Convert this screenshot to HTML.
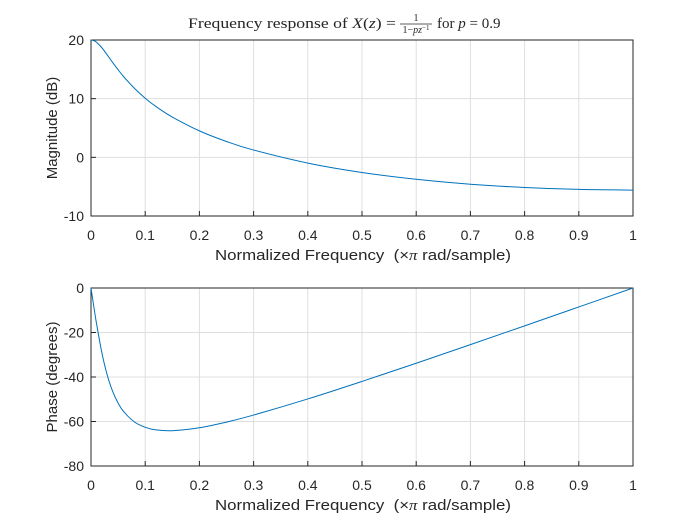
<!DOCTYPE html>
<html><head><meta charset="utf-8"><style>
body{margin:0;background:#fff}
svg text{font-family:"Liberation Sans",sans-serif;font-size:13px;fill:#262626}
.ser{font-family:"Liberation Serif",serif !important;font-size:15px}
</style></head><body>
<svg id="fig" width="700" height="525" xmlns="http://www.w3.org/2000/svg">
<rect width="700" height="525" fill="#fff"/>
<g>
<text class="ser" x="188" y="28" textLength="208" lengthAdjust="spacingAndGlyphs">Frequency response of <tspan font-style="italic">X</tspan>(<tspan font-style="italic">z</tspan>) =</text>
<text class="ser" x="416" y="21" text-anchor="middle" style="font-size:10px">1</text>
<line x1="400" x2="432" y1="24" y2="24" stroke="#262626" stroke-width="0.7"/>
<text class="ser" x="416" y="33" text-anchor="middle" style="font-size:10px">1−<tspan font-style="italic">pz</tspan><tspan font-size="7" dy="-3">−1</tspan></text>
<text class="ser" x="437" y="28">for <tspan font-style="italic">p</tspan> = 0.9</text>
</g>
<g id="g1"></g><g id="g2"></g>
</svg>
<script>
const freqs=[0,0.005,0.01,0.02,0.03,0.04,0.05,0.06,0.08,0.1,0.12,0.15,0.2,0.25,0.3,0.4,0.5,0.6,0.7,0.8,0.9,1.0];
const magDB=[20,19.90,19.63,18.68,17.45,16.16,14.93,13.78,11.77,10.08,8.65,6.86,4.51,2.70,1.24,-0.98,-2.58,-3.74,-4.58,-5.14,-5.47,-5.58];
const phaseDeg=[0,-8.04,-15.72,-29.04,-39.16,-46.48,-51.73,-55.49,-60.18,-62.61,-63.78,-64.13,-62.80,-60.26,-57.10,-49.86,-41.99,-33.81,-25.46,-17.02,-8.52,0];
const xTicks=[0,0.1,0.2,0.3,0.4,0.5,0.6,0.7,0.8,0.9,1];
const magTicks=[-10,0,10,20];
const phaseTicks=[-80,-60,-40,-20,0];
const NS="http://www.w3.org/2000/svg";
function mk(p,tag,a){const e=document.createElementNS(NS,tag);for(const k in a)e.setAttribute(k,a[k]);p.appendChild(e);return e;}
function panel(g,top,bot,ymin,ymax,yT,vals,ylabel,pfx){
 const L=91,R=633;
 const sx=v=>L+(R-L)*v, sy=v=>bot-(bot-top)*(v-ymin)/(ymax-ymin);
 xTicks.forEach(t=>{const l=mk(g,'line',{x1:sx(t),x2:sx(t),y1:top,y2:bot,stroke:'#dfdfdf'});
  
  const tk=mk(g,'line',{x1:sx(t),x2:sx(t),y1:bot,y2:bot-5,stroke:'#262626'});
  
  const tx=mk(g,'text',{x:sx(t),y:bot+24,'text-anchor':'middle',style:'font-size:14px'});tx.textContent=String(t);
  });
 yT.forEach(t=>{const l=mk(g,'line',{x1:L,x2:R,y1:sy(t),y2:sy(t),stroke:'#dfdfdf'});
  
  const tk=mk(g,'line',{x1:L,x2:L+5,y1:sy(t),y2:sy(t),stroke:'#262626'});
  
  const tx=mk(g,'text',{x:L-7,y:sy(t)+5,'text-anchor':'end',style:'font-size:14px'});tx.textContent=String(t);
  });
 const b=mk(g,'rect',{x:L,y:top,width:R-L,height:bot-top,fill:'none',stroke:'#262626'});
 
 const P=freqs.map((f,i)=>[sx(f),sy(vals[i])]);
 let d='M'+P[0][0]+','+P[0][1];
 for(let i=0;i<P.length-1;i++){const p0=P[Math.max(i-1,0)],p1=P[i],p2=P[i+1],p3=P[Math.min(i+2,P.length-1)];
  d+=` C${p1[0]+(p2[0]-p0[0])/6},${p1[1]+(p2[1]-p0[1])/6} ${p2[0]-(p3[0]-p1[0])/6},${p2[1]-(p3[1]-p1[1])/6} ${p2[0]},${p2[1]}`;}
 const ln=mk(g,'path',{d:d,fill:'none',stroke:'#0072bd','stroke-width':1});
 
 const xl=mk(g,'text',{x:215,y:bot+44,textLength:296,lengthAdjust:'spacingAndGlyphs',style:'font-size:15px'});
 xl.innerHTML='Normalized Frequency\u00a0\u00a0(×<tspan font-style="italic" style="font-family:Liberation Serif,serif">π</tspan> rad/sample)';
 
 const cy=(top+bot)/2;
 const yl=mk(g,'text',{x:0,y:0,'text-anchor':'middle',transform:`translate(57,${cy}) rotate(-90)`,style:'font-size:15px'});
 yl.textContent=ylabel;
 
}
panel(document.getElementById('g1'),40,216,-10,20,magTicks,magDB,'Magnitude (dB)','magnitude');
panel(document.getElementById('g2'),288,466,-80,0,phaseTicks,phaseDeg,'Phase (degrees)','phase');
</script>
</body></html>
